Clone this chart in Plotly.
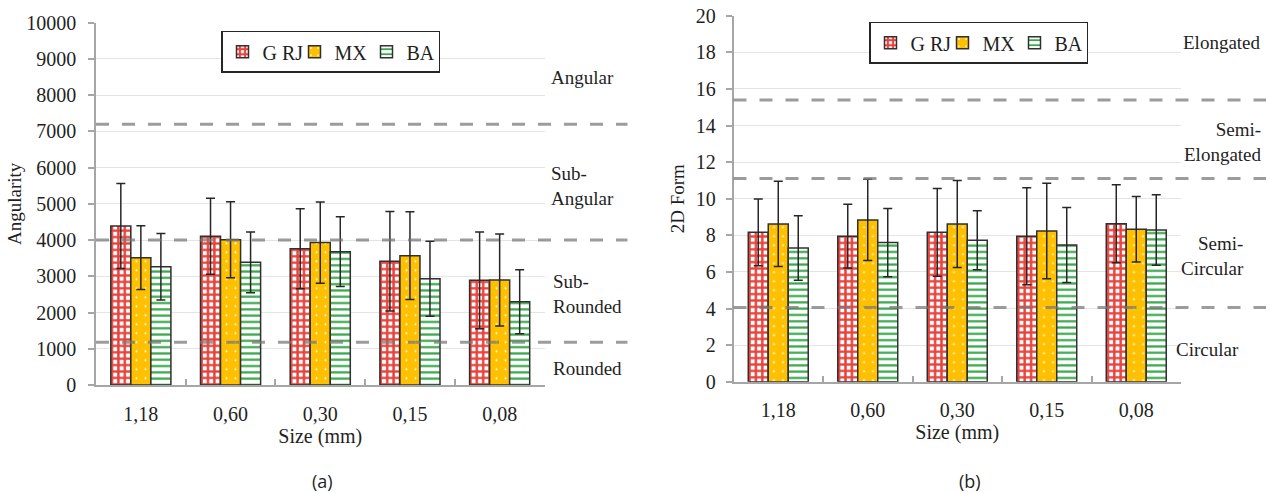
import plotly.graph_objects as go

W, H = 1270, 493

# ---------------- data ----------------
sizes = ["1,18", "0,60", "0,30", "0,15", "0,08"]
series_names = ["G RJ", "MX", "BA"]

ang_grj = [4390, 4105, 3760, 3415, 2890]
ang_grj_sd = [1173, 1049, 1104, 1375, 1335]
ang_mx = [3515, 4010, 3930, 3570, 2900]
ang_mx_sd = [880, 1049, 1122, 1209, 1270]
ang_ba = [3265, 3385, 3680, 2935, 2300]
ang_ba_sd = [920, 838, 962, 1036, 883]

form_grj = [8.16, 7.95, 8.16, 7.95, 8.63]
form_grj_sd = [1.83, 1.74, 2.40, 2.65, 2.13]
form_mx = [8.62, 8.84, 8.62, 8.23, 8.33]
form_mx_sd = [2.33, 2.22, 2.38, 2.61, 1.79]
form_ba = [7.31, 7.60, 7.73, 7.47, 8.29]
form_ba_sd = [1.76, 1.87, 1.61, 2.05, 1.93]

ang_limits = [7200, 4000, 1180]
form_limits = [15.4, 11.1, 4.05]

ang_classes = ["Angular", "Sub-<br>Angular", "Sub-<br>Rounded", "Rounded"]
form_classes = ["Elongated", "Semi-<br>Elongated", "Semi-<br>Circular", "Circular"]

# ---------------- styles ----------------
SERIF = "Liberation Serif"
TXT = "#1f1f1f"
RED = "#E8423B"
GOLD = "#FFC000"
GREEN = "#36A84A"
OUTLINE = "#303030"

styles = [
    dict(color=RED, pattern=dict(shape="+", fgcolor=RED, bgcolor="white", size=6.4, solidity=0.62, fillmode="replace")),
    dict(color=GOLD, pattern=dict(shape=".", fgcolor="white", bgcolor=GOLD, size=9, solidity=0.04, fillmode="replace")),
    dict(color=GREEN, pattern=dict(shape="-", fgcolor=GREEN, bgcolor="white", size=6.3, solidity=0.35, fillmode="replace")),
]


def px(x, y):
    return x / W, 1 - y / H


fig = go.Figure()

panels = [
    ("x", "y", "legend", [ang_grj, ang_mx, ang_ba], [ang_grj_sd, ang_mx_sd, ang_ba_sd]),
    ("x2", "y2", "legend2", [form_grj, form_mx, form_ba], [form_grj_sd, form_mx_sd, form_ba_sd]),
]

for xa, ya, lg, vals, sds in panels:
    for name, v, sd, st in zip(series_names, vals, sds, styles):
        fig.add_trace(go.Bar(
            x=sizes, y=v, name=name, xaxis=xa, yaxis=ya, legend=lg,
            marker=dict(color=st["color"], pattern=st["pattern"],
                        line=dict(color=OUTLINE, width=1.5)),
            error_y=dict(type="data", array=sd, color="#262626", thickness=1.5, width=4.5),
        ))

# threshold dashed lines (extend over the class-label column)
for yref, limits, ext in [("y", ang_limits, 1.185), ("y2", form_limits, 1.19)]:
    xr = "x domain" if yref == "y" else "x2 domain"
    for lim in limits:
        fig.add_shape(type="line", xref=xr, yref=yref, x0=0, x1=ext, y0=lim, y1=lim,
                      line=dict(color="rgba(118,118,118,0.72)", width=3, dash="13px,13px"),
                      layer="above")

axis_common = dict(
    showline=True, linecolor="#A6A6A6", linewidth=1.5, automargin=False,
    tickfont=dict(family=SERIF, size=20, color=TXT),
)

xcommon = dict(axis_common, type="category", ticks="inside", tickson="boundaries",
               ticklen=6, tickcolor="#A6A6A6", tickwidth=1.5, showgrid=False,
               ticklabelstandoff=10,
               title=dict(text="Size (mm)", font=dict(family=SERIF, size=20, color=TXT), standoff=4))
ycommon = dict(axis_common, ticks="outside", ticklen=6, tickcolor="#A6A6A6", tickwidth=1.5,
               showgrid=True, gridcolor="#E4E4E4", gridwidth=1, zeroline=False, tickformat="d")

legend_common = dict(orientation="h", xanchor="center", yanchor="top",
                     bordercolor="#262626", borderwidth=1.5, bgcolor="white",
                     font=dict(family=SERIF, size=20, color=TXT), itemwidth=30,
                     traceorder="normal", entrywidth=27, entrywidthmode="pixels")

fig.update_layout(
    width=W, height=H, autosize=False,
    margin=dict(l=0, r=0, t=0, b=0, pad=0, autoexpand=False),
    paper_bgcolor="white", plot_bgcolor="white",
    barmode="group", bargap=0.33, bargroupgap=0,
    showlegend=True,
    xaxis=dict(xcommon, domain=[96 / W, 544.5 / W], anchor="y"),
    yaxis=dict(ycommon, domain=[1 - 385 / H, 1 - 22.7 / H], range=[0, 10000], dtick=1000,
               anchor="x", ticklabelstandoff=8,
               title=dict(text="Angularity", font=dict(family=SERIF, size=19, color=TXT), standoff=0)),
    xaxis2=dict(xcommon, domain=[733.5 / W, 1181 / W], anchor="y2"),
    yaxis2=dict(ycommon, domain=[1 - 381.7 / H, 1 - 15.7 / H], range=[0, 20], dtick=2,
                anchor="x2", ticklabelstandoff=6,
                title=dict(text="2D Form", font=dict(family=SERIF, size=19, color=TXT), standoff=6)),
    legend=dict(legend_common, x=330.5 / W, y=1 - 30.7 / H),
    legend2=dict(legend_common, x=978.5 / W, y=1 - 21.7 / H),
)

# class labels
ang_pos = [(549, 78, "left"), (549, 186, "left"), (551, 294, "left"), (551, 368, "left")]
form_pos = [(1181, 43, "left"), (1264, 142, "right"), (1246, 256, "right"), (1241, 349, "right")]
for labels, pos in [(ang_classes, ang_pos), (form_classes, form_pos)]:
    for text, (x, y, al) in zip(labels, pos):
        xp, yp = px(x, y)
        fig.add_annotation(text=text, x=xp, y=yp, xref="paper", yref="paper",
                           xanchor=al, yanchor="middle", align=al, showarrow=False,
                           font=dict(family=SERIF, size=19, color=TXT))

# panel captions
for text, x in [("(a)", 322), ("(b)", 970)]:
    xp, yp = px(x, 481)
    fig.add_annotation(text=text, x=xp, y=yp, xref="paper", yref="paper",
                       xanchor="center", yanchor="middle", showarrow=False,
                       font=dict(family="Open Sans", size=18, color=TXT))

fig.write_html("out.html",
               config={"displayModeBar": False, "responsive": False},
               post_script="document.body.style.margin='0';document.body.style.overflow='hidden';")
